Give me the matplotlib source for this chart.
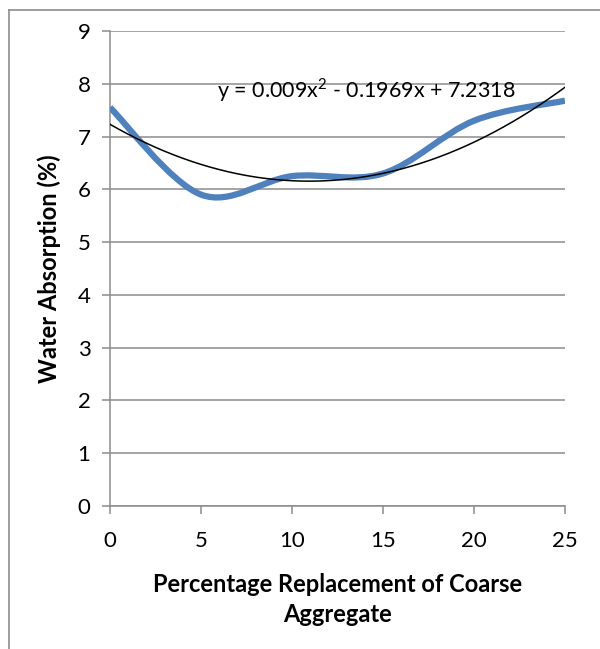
import numpy as np
import matplotlib
matplotlib.use("Agg")
import matplotlib.pyplot as plt
from matplotlib.path import Path
from matplotlib.patches import PathPatch
from matplotlib.lines import Line2D

# data
replacement = [0, 5, 10, 15, 20, 25]
absorption = [7.55, 5.9, 6.25, 6.3, 7.3, 7.68]
trend_coef = [0.009, -0.1969, 7.2318]   # Excel poly trendline (order 2)
trend_label = "y = 0.009x$^{2}$ - 0.1969x + 7.2318"
x_ticks = [0, 5, 10, 15, 20, 25]
y_ticks = list(range(0, 10))

plt.rcParams['font.family'] = ['Lato', 'DejaVu Sans']
plt.rcParams['mathtext.fontset'] = 'custom'
plt.rcParams['mathtext.rm'] = 'Lato'
grid_col = '#8c8c8c'

fig = plt.figure(figsize=(6.0, 6.49), dpi=100)
ax = fig.add_axes([110/600, 1 - 506/649, 455/600, 475/649])

# smoothed line like Excel (cubic bezier, catmull-rom style handles)
xs = np.array(replacement, float)
ys = np.array(absorption, float)
n = len(xs)
verts = [(xs[0], ys[0])]
codes = [Path.MOVETO]
for i in range(n - 1):
    p0 = np.array([xs[max(i-1, 0)], ys[max(i-1, 0)]])
    p1 = np.array([xs[i], ys[i]])
    p2 = np.array([xs[i+1], ys[i+1]])
    p3 = np.array([xs[min(i+2, n-1)], ys[min(i+2, n-1)]])
    c1 = p1 + (p2 - p0) / 6.0
    c2 = p2 - (p3 - p1) / 6.0
    verts += [tuple(c1), tuple(c2), tuple(p2)]
    codes += [Path.CURVE4] * 3
ax.add_patch(PathPatch(Path(verts, codes), fill=False, edgecolor='#4f81bd',
                       lw=4.5, capstyle='butt', zorder=3))

# trendline
xt = np.linspace(0, 25, 200)
ax.plot(xt, np.polyval(trend_coef, xt), color='black', lw=1.1, zorder=4)
ax.text(5.9, 7.88, trend_label, fontsize=15.5, va='center', ha='left', zorder=5)

ax.set_xlim(0, 25)
ax.set_ylim(0, 9)
ax.set_xticks(x_ticks)
ax.set_yticks(y_ticks)
ax.grid(axis='y', color=grid_col, lw=1.1)
ax.set_axisbelow(True)
for s in ['top', 'right']:
    ax.spines[s].set_visible(False)
for s in ['left', 'bottom']:
    ax.spines[s].set_color(grid_col)
    ax.spines[s].set_linewidth(1.1)
ax.tick_params(axis='both', colors=grid_col, direction='out', length=6, width=1.1,
               labelcolor='black', labelsize=16)
ax.tick_params(axis='x', pad=12)
ax.tick_params(axis='y', pad=8)

ax.set_xlabel("Percentage Replacement of Coarse\nAggregate", fontsize=17,
              fontweight='bold', labelpad=16, linespacing=1.35)
ax.set_ylabel("Water Absorption (%)", fontsize=17, fontweight='bold', labelpad=12)

# outer chart frame
fig.add_artist(Line2D([9/600, 9/600], [0, 1 - 10/649], transform=fig.transFigure,
                      color=grid_col, lw=1.2))
fig.add_artist(Line2D([9/600, 1], [1 - 10/649, 1 - 10/649], transform=fig.transFigure,
                      color=grid_col, lw=1.2))

fig.savefig("out.png", dpi=100)
